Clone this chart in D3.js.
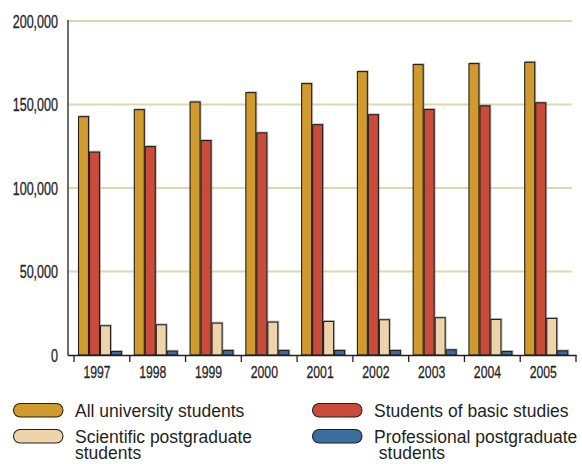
<!DOCTYPE html>
<html>
<head>
<meta charset="utf-8">
<script src="https://cdn.jsdelivr.net/npm/d3@7/dist/d3.min.js"></script>
<style>
  html, body { margin: 0; padding: 0; background: #fff; }
  svg { display: block; }
</style>
</head>
<body>
<svg id="chart" width="582" height="464"></svg>
<script>
// Students by year
const years = ["1997", "1998", "1999", "2000", "2001", "2002", "2003", "2004", "2005"];
const allStudents   = [143000, 147200, 151800, 157400, 162800, 170000, 174200, 174800, 175600];
const basicStudies  = [121800, 125100, 128700, 133300, 138200, 144200, 147300, 149500, 151300];
const scientificPG  = [17800, 18400, 19400, 20000, 20400, 21400, 22600, 21600, 22200];
const professionalPG = [2400, 2600, 3000, 3000, 3000, 3000, 3400, 2400, 2800];
const seriesNames = ["All university students", "Students of basic studies",
                     "Scientific postgraduate students", "Professional postgraduate students"];
const seriesColors = ["#D19A2C", "#C94C3B", "#EDD4AA", "#3B6E9E"];
const yTicks = [0, 50000, 100000, 150000, 200000];

const seriesValues = [allStudents, basicStudies, scientificPG, professionalPG];

const svg = d3.select("#chart");
const axisLeft = 68, plotLeft = 74, plotRight = 576, plotTop = 21, plotBottom = 355;
const condensed = "'Liberation Sans', Arial, sans-serif";

const x0 = d3.scaleBand().domain(years).range([plotLeft, plotRight]).paddingInner(0).paddingOuter(0);
const x1 = d3.scaleBand().domain(d3.range(4)).range([4, 48]).padding(0);
const y = d3.scaleLinear().domain([0, 200000]).range([plotBottom, plotTop]);

// horizontal gridlines
svg.append("g").selectAll("line").data(yTicks.filter(t => t > 0)).join("line")
  .attr("x1", axisLeft).attr("x2", 572)
  .attr("y1", d => y(d)).attr("y2", d => y(d))
  .attr("stroke", "#DAD9B3").attr("stroke-width", 2.2);

// y tick labels (narrow lettering)
svg.append("g").selectAll("text").data(yTicks).join("text")
  .attr("transform", d => `translate(58,${y(d) + 6.6}) scale(0.66,1)`)
  .attr("text-anchor", "end")
  .attr("font-family", condensed)
  .attr("font-size", 19)
  .attr("fill", "#262626")
  .attr("stroke", "#262626").attr("stroke-width", 0.35)
  .text(d => d3.format(",")(d));

// bars
const groups = svg.append("g").selectAll("g").data(years).join("g")
  .attr("transform", d => `translate(${x0(d)},0)`);

groups.each(function (yr, i) {
  const g = d3.select(this);
  seriesValues.forEach((vals, s) => {
    const bx = x1(s), bw = x1.bandwidth(), top = y(vals[i]);
    // soft shadow edge
    g.append("rect")
      .attr("x", bx + 1).attr("y", top - 1)
      .attr("width", bw).attr("height", plotBottom - top + 1)
      .attr("fill", "#9a9a9a").attr("opacity", 0.6);
    g.append("rect")
      .attr("x", bx + 0.5).attr("y", top + 0.5)
      .attr("width", bw - 1).attr("height", plotBottom - top - 0.5)
      .attr("fill", seriesColors[s])
      .attr("stroke", "#231f1c").attr("stroke-width", 1.1);
  });
});

// axes lines
svg.append("line").attr("x1", axisLeft).attr("x2", axisLeft)
  .attr("y1", 20).attr("y2", plotBottom + 0.5)
  .attr("stroke", "#231f1c").attr("stroke-width", 1.3);
svg.append("line").attr("x1", axisLeft).attr("x2", plotRight + 0.5)
  .attr("y1", plotBottom + 0.5).attr("y2", plotBottom + 0.5)
  .attr("stroke", "#231f1c").attr("stroke-width", 1.3);

// category boundary ticks
const tickXs = years.map(d => x0(d)).concat([plotRight]);
svg.append("g").selectAll("line").data(tickXs).join("line")
  .attr("x1", d => d).attr("x2", d => d)
  .attr("y1", plotBottom).attr("y2", plotBottom + 7)
  .attr("stroke", "#231f1c").attr("stroke-width", 1.3);

// year labels (narrow lettering)
svg.append("g").selectAll("text").data(years).join("text")
  .attr("transform", d => `translate(${x0(d) + 23},377.5) scale(0.72,1)`)
  .attr("text-anchor", "middle")
  .attr("font-family", condensed)
  .attr("font-size", 17)
  .attr("fill", "#262626")
  .attr("stroke", "#262626").attr("stroke-width", 0.3)
  .text(d => d);

// legend
const legendItems = [
  { i: 0, x: 13, y: 403, lines: ["All university students"] },
  { i: 1, x: 312, y: 403, lines: ["Students of basic studies"] },
  { i: 2, x: 13, y: 429, lines: ["Scientific postgraduate", "students"] },
  { i: 3, x: 312, y: 429, lines: ["Professional postgraduate", " students"] }
];
const lg = svg.append("g").selectAll("g").data(legendItems).join("g")
  .attr("transform", d => `translate(${d.x},${d.y})`);
lg.append("rect")
  .attr("x", 0.5).attr("y", 0.5).attr("width", 49.5).attr("height", 13.5)
  .attr("rx", 6.75).attr("ry", 6.75)
  .attr("fill", d => seriesColors[d.i])
  .attr("stroke", "#231f1c").attr("stroke-width", 1.1);
lg.append("text")
  .attr("x", 62).attr("y", 13.5)
  .attr("font-family", "'Liberation Sans', Arial, sans-serif")
  .attr("font-size", 17.5)
  .attr("fill", "#231f1c")
  .attr("xml:space", "preserve")
  .style("white-space", "pre")
  .selectAll("tspan").data(d => d.lines).join("tspan")
  .attr("x", 62).attr("dy", (d, k) => k === 0 ? 0 : 16)
  .text(d => d);
</script>
</body>
</html>
